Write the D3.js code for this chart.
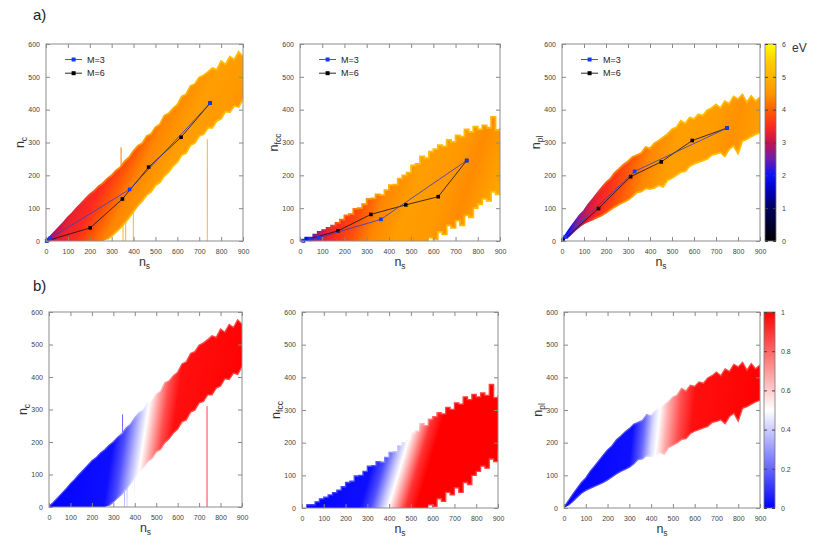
<!DOCTYPE html>
<html>
<head>
<meta charset="utf-8">
<script src="https://cdn.jsdelivr.net/npm/d3@7"></script>
<style>
  body { margin: 0; background: #fff; }
  text { font-family: "Liberation Sans", Arial, sans-serif; }
</style>
</head>
<body>
<svg id="fig" width="817" height="545"></svg>
<script>
// n_s grid shared by the three clouds (read every 20 units)
const nsGrid = [0,20,40,60,80,100,120,140,160,180,200,220,240,260,280,300,320,340,360,380,400,420,440,460,480,500,520,540,560,580,600,620,640,660,680,700,720,740,760,780,800,820,840,860,880,900]

// upper / lower edge of each cloud
const ncHigh = [2,14,28,42,56,72,85,100,114,128,142,152,166,176,190,200,215,225,243,255,275,290,298,320,326,347,355,382,388,404,415,440,447,472,478,498,505,515,527,522,548,538,562,552,576,562]
const ncLow = [0,0,0,0,0,0,0,0,0,0,0,0,0,0,5,15,28,40,55,72,90,108,122,140,150,170,178,198,210,228,240,262,268,292,298,320,325,345,345,366,372,395,392,412,408,432]
const nfccHigh = [0,10,10,19,28,33,40,47,55,65,78,82,98,100,112,128,130,142,140,155,170,172,190,200,208,230,235,258,252,272,280,292,288,308,302,322,318,340,332,348,340,352,345,378,338,345]
const nfccLow = [0,0,0,0,0,0,0,0,0,0,0,0,0,0,0,0,0,0,0,0,0,0,0,0,0,0,0,0,0,10,5,28,20,48,40,62,48,78,72,100,112,128,122,150,142,175]
const nplHigh = [3,22,42,60,78,92,112,128,145,162,178,190,208,220,233,243,256,262,268,286,282,298,306,316,326,340,346,366,358,376,372,386,382,398,405,416,405,426,418,440,432,446,422,442,426,438]
const nplLow = [0,8,20,33,45,54,60,66,72,78,86,95,104,112,118,125,135,148,150,160,158,162,170,165,185,192,200,210,212,228,235,240,245,250,262,265,270,258,280,290,266,305,310,318,325,330]

// single stray configurations in the n_c cloud: [ns, from, to]
const ncSpikes = [[343,230,285],[352,55,0],[364,60,0],[399,90,0],[737,310,0]]

// M=3 and M=6 series, [ns, n]
const ncM3 = [[3,0],[18,8],[382,157],[750,420]]
const ncM6 = [[5,1],[202,40],[349,128],[469,225],[617,316],[750,420]]
const nfccM3 = [[15,1],[45,5],[85,10],[364,66],[750,245]]
const nfccM6 = [[15,1],[171,31],[319,81],[476,110],[622,135],[750,245]]
const nplM3 = [[15,13],[330,212],[750,344]]
const nplM6 = [[5,3],[166,99],[312,196],[451,241],[592,306],[750,344]]

// colour along the clouds: [ns, value]
const ncEnergy = [[0,1.8],[70,2.0],[100,2.5],[130,2.9],[170,3.3],[240,3.5],[310,3.9],[380,4.35],[500,4.65],[640,4.55],[720,4.4],[820,4.65],[900,4.8]]
const nfccEnergy = [[0,1.8],[80,2.0],[110,2.7],[150,3.2],[200,3.5],[280,3.85],[360,4.35],[480,4.65],[620,4.55],[720,4.4],[820,4.65],[900,4.8]]
const nplEnergy = [[0,1.9],[80,2.0],[110,2.6],[150,3.2],[200,3.5],[270,3.9],[350,4.35],[450,4.65],[600,4.6],[700,4.45],[800,4.65],[900,4.75]]
const ncFraction = [[0,0],[300,0.03],[350,0.15],[400,0.35],[440,0.5],[480,0.68],[520,0.85],[570,0.97],[900,1]]
const nfccFraction = [[0,0],[310,0.03],[360,0.15],[410,0.38],[440,0.5],[480,0.7],[520,0.9],[570,1],[900,1]]
const nplFraction = [[0,0],[310,0.03],[360,0.2],[400,0.42],[425,0.5],[460,0.65],[520,0.85],[580,0.97],[900,1]]

const xTicks = [0,100,200,300,400,500,600,700,800,900]
const yTicks = [0,100,200,300,400,500,600]
const eVTicks = [0,1,2,3,4,5,6]
const fracTicks = [0,0.2,0.4,0.6,0.8,1]

const eVColor = d3.scaleLinear()
  .domain([0,1,1.5,2,2.5,3,3.5,4,4.5,5,5.5,6])
  .range(["#000000","#00005e","#0000b8","#0a10ff","#6e1eaa","#c4124e","#ff2a1e","#ff6000","#ff9600","#ffb200","#ffcf00","#ffff00"])
  .clamp(true)
const fracColor = d3.scaleLinear().domain([0,0.5,1]).range(["#0000ff","#ffffff","#ff0000"]).clamp(true)

// lighter edge colours
const eVRim = v => eVColor(v < 3.5 ? v : Math.min(v + 0.6, 5.2))
const fracRim = v => fracColor(0.5 + (v - 0.5) * 0.75)

const panels = [
  {id: "a1", x0: 46, x1: 243, y0: 44, y1: 241, hi: ncHigh, lo: ncLow, sub: "c", stops: ncEnergy, color: eVColor, rim: eVRim, rimW: 1.8, tilt: 0.5, refY: 150, m3: ncM3, m6: ncM6, spikes: ncSpikes},
  {id: "a2", x0: 300, x1: 500, y0: 44, y1: 241, hi: nfccHigh, lo: nfccLow, sub: "fcc", step: true, stops: nfccEnergy, color: eVColor, rim: eVRim, rimW: 1.8, tilt: 0.35, refY: 100, m3: nfccM3, m6: nfccM6},
  {id: "a3", x0: 562, x1: 760, y0: 44, y1: 241, hi: nplHigh, lo: nplLow, sub: "pl", stops: nplEnergy, color: eVColor, rim: eVRim, rimW: 1.8, tilt: 0.3, refY: 150, m3: nplM3, m6: nplM6},
  {id: "b1", x0: 49, x1: 242, y0: 312, y1: 507, hi: ncHigh, lo: ncLow, sub: "c", stops: ncFraction, color: fracColor, rim: fracRim, rimW: 1.3, tilt: 0.15, refY: 200, spikes: ncSpikes},
  {id: "b2", x0: 302, x1: 498, y0: 312, y1: 508, hi: nfccHigh, lo: nfccLow, sub: "fcc", step: true, stops: nfccFraction, color: fracColor, rim: fracRim, rimW: 1.3, tilt: 0.3, refY: 100},
  {id: "b3", x0: 564, x1: 760, y0: 312, y1: 508, hi: nplHigh, lo: nplLow, sub: "pl", stops: nplFraction, color: fracColor, rim: fracRim, rimW: 1.3, tilt: 0.1, refY: 200}
]

const svg = d3.select("#fig")
const defs = svg.append("defs")

function makeGradient(id, stops, color, x, y, refY, k) {
  const L = x.range()[1] - x.range()[0]
  const x1 = x(0), y1 = y(refY)
  const g = defs.append("linearGradient").attr("id", id)
    .attr("gradientUnits", "userSpaceOnUse")
    .attr("x1", x1).attr("y1", y1)
    .attr("x2", x1 + L / (1 + k * k)).attr("y2", y1 + k * L / (1 + k * k))
  g.selectAll("stop").data(stops).join("stop")
    .attr("offset", d => d[0] / 900)
    .attr("stop-color", d => color(d[1]))
}

function styleAxis(g, tickColor) {
  g.select(".domain").remove()
  g.selectAll(".tick line").attr("stroke", tickColor)
  g.selectAll("text").attr("font-size", 7).attr("fill", "#444")
    .attr("font-family", "Liberation Sans, Arial, sans-serif")
}

function drawPanel(p) {
  const x = d3.scaleLinear().domain([0, 900]).range([p.x0, p.x1])
  const y = d3.scaleLinear().domain([0, 600]).range([p.y1, p.y0])
  const g = svg.append("g")

  defs.append("clipPath").attr("id", "clip-" + p.id)
    .append("rect").attr("x", p.x0).attr("y", p.y0)
    .attr("width", p.x1 - p.x0).attr("height", p.y1 - p.y0)

  makeGradient("fill-" + p.id, p.stops, p.color, x, y, p.refY, p.tilt)
  makeGradient("rim-" + p.id, p.stops, p.rim, x, y, p.refY, p.tilt)

  const rows = nsGrid.map((ns, i) => ({ns: ns, lo: p.lo[i], hi: p.hi[i]}))
  const curve = p.step ? d3.curveStepAfter : d3.curveLinear
  const cloud = g.append("g").attr("clip-path", `url(#clip-${p.id})`)

  cloud.append("path").datum(rows)
    .attr("d", d3.area().x(d => x(d.ns)).y0(d => y(d.lo)).y1(d => y(d.hi)).curve(curve))
    .attr("fill", `url(#fill-${p.id})`)

  // lighter rims along the jagged edges
  cloud.append("path").datum(rows)
    .attr("d", d3.line().defined(d => d.hi > 0).x(d => x(d.ns)).y(d => y(d.hi)).curve(curve))
    .attr("fill", "none").attr("stroke", `url(#rim-${p.id})`).attr("stroke-width", p.rimW)
  cloud.append("path").datum(rows)
    .attr("d", d3.line().defined(d => d.lo > 0).x(d => x(d.ns)).y(d => y(d.lo)).curve(curve))
    .attr("fill", "none").attr("stroke", `url(#rim-${p.id})`).attr("stroke-width", p.rimW)

  if (p.spikes) {
    cloud.selectAll("line.spike").data(p.spikes).join("line").attr("class", "spike")
      .attr("x1", d => x(d[0])).attr("x2", d => x(d[0]))
      .attr("y1", d => y(d[1])).attr("y2", d => y(d[2]))
      .attr("stroke", `url(#rim-${p.id})`).attr("stroke-width", 1)
  }

  if (p.m3) {
    const line = d3.line().x(d => x(d[0])).y(d => y(d[1]))
    const series = [
      {pts: p.m6, line: "#111", mark: "#000"},
      {pts: p.m3, line: "#3838d0", mark: "#1438ff"}
    ]
    series.forEach(s => {
      g.append("path").datum(s.pts).attr("d", line)
        .attr("fill", "none").attr("stroke", s.line).attr("stroke-width", 0.8)
      g.selectAll(null).data(s.pts).join("rect")
        .attr("x", d => x(d[0]) - 1.8).attr("y", d => y(d[1]) - 1.8)
        .attr("width", 3.6).attr("height", 3.6).attr("fill", s.mark)
    })

    // legend
    const leg = [{label: "M=3", line: "#3838d0", mark: "#1438ff"}, {label: "M=6", line: "#111", mark: "#000"}]
    leg.forEach((l, i) => {
      const ly = p.y0 + 15.5 + i * 13.7
      g.append("line").attr("x1", p.x0 + 19).attr("x2", p.x0 + 36).attr("y1", ly).attr("y2", ly)
        .attr("stroke", l.line).attr("stroke-width", 0.9)
      g.append("rect").attr("x", p.x0 + 25.6).attr("y", ly - 2).attr("width", 4).attr("height", 4).attr("fill", l.mark)
      g.append("text").attr("x", p.x0 + 41).attr("y", ly).attr("dy", "0.35em")
        .attr("font-size", 9).attr("fill", "#222").text(l.label)
    })
  }

  // axes with inward ticks on all four sides
  g.append("g").attr("transform", `translate(0,${p.y1})`)
    .call(d3.axisBottom(x).tickValues(xTicks).tickFormat(d => d).tickSizeInner(-4).tickSizeOuter(0).tickPadding(8))
    .call(a => styleAxis(a, "#888"))
  g.append("g").attr("transform", `translate(0,${p.y0})`)
    .call(d3.axisTop(x).tickValues(xTicks).tickFormat("").tickSizeInner(-4).tickSizeOuter(0))
    .call(a => styleAxis(a, "#888"))
  g.append("g").attr("transform", `translate(${p.x0},0)`)
    .call(d3.axisLeft(y).tickValues(yTicks).tickFormat(d => d).tickSizeInner(-4).tickSizeOuter(0).tickPadding(6))
    .call(a => styleAxis(a, "#888"))
  g.append("g").attr("transform", `translate(${p.x1},0)`)
    .call(d3.axisRight(y).tickValues(yTicks).tickFormat("").tickSizeInner(-4).tickSizeOuter(0))
    .call(a => styleAxis(a, "#888"))

  g.append("rect").attr("x", p.x0).attr("y", p.y0)
    .attr("width", p.x1 - p.x0).attr("height", p.y1 - p.y0)
    .attr("fill", "none").attr("stroke", "#8c8c8c").attr("stroke-width", 1)

  // axis titles
  const xt = g.append("text").attr("x", (p.x0 + p.x1) / 2).attr("y", p.y1 + 25)
    .attr("text-anchor", "middle").attr("font-size", 12.5).attr("fill", "#333").text("n")
  xt.append("tspan").attr("dy", 3).attr("font-size", 8.5).text("s")
  const yt = g.append("text")
    .attr("transform", `translate(${p.x0 - 22},${y(300)}) rotate(-90)`)
    .attr("text-anchor", "middle").attr("font-size", 12.5).attr("fill", "#333").text("n")
  yt.append("tspan").attr("dy", 3).attr("font-size", 8.5).text(p.sub)
}

panels.forEach(drawPanel)

// colour bars
function drawColorbar(id, x0, x1, y0, y1, domain, ticks, color, nodes) {
  const grad = defs.append("linearGradient").attr("id", id)
    .attr("x1", 0).attr("y1", 1).attr("x2", 0).attr("y2", 0)
  grad.selectAll("stop").data(nodes).join("stop")
    .attr("offset", d => (d - domain[0]) / (domain[1] - domain[0]))
    .attr("stop-color", d => color(d))
  const s = d3.scaleLinear().domain(domain).range([y1, y0])
  svg.append("rect").attr("x", x0).attr("y", y0).attr("width", x1 - x0).attr("height", y1 - y0)
    .attr("fill", `url(#${id})`).attr("stroke", "#777").attr("stroke-width", 0.8)
  svg.append("g").attr("transform", `translate(${x1},0)`)
    .call(d3.axisRight(s).tickValues(ticks).tickFormat(d => d).tickSizeInner(-3).tickSizeOuter(0).tickPadding(6))
    .call(a => styleAxis(a, "#444"))
  svg.append("g").attr("transform", `translate(${x0},0)`)
    .call(d3.axisLeft(s).tickValues(ticks).tickFormat("").tickSizeInner(-3).tickSizeOuter(0))
    .call(a => styleAxis(a, "#444"))
}

drawColorbar("cb-eV", 765, 776, 44, 241, [0, 6], eVTicks, eVColor, eVColor.domain())
drawColorbar("cb-frac", 764, 775, 312, 508, [0, 1], fracTicks, fracColor, fracColor.domain())

svg.append("text").attr("x", 792).attr("y", 52).attr("font-size", 12).attr("fill", "#333").text("eV")
svg.append("text").attr("x", 33).attr("y", 20).attr("font-size", 15).attr("fill", "#222").text("a)")
svg.append("text").attr("x", 33).attr("y", 291).attr("font-size", 15).attr("fill", "#222").text("b)")
</script>
</body>
</html>
